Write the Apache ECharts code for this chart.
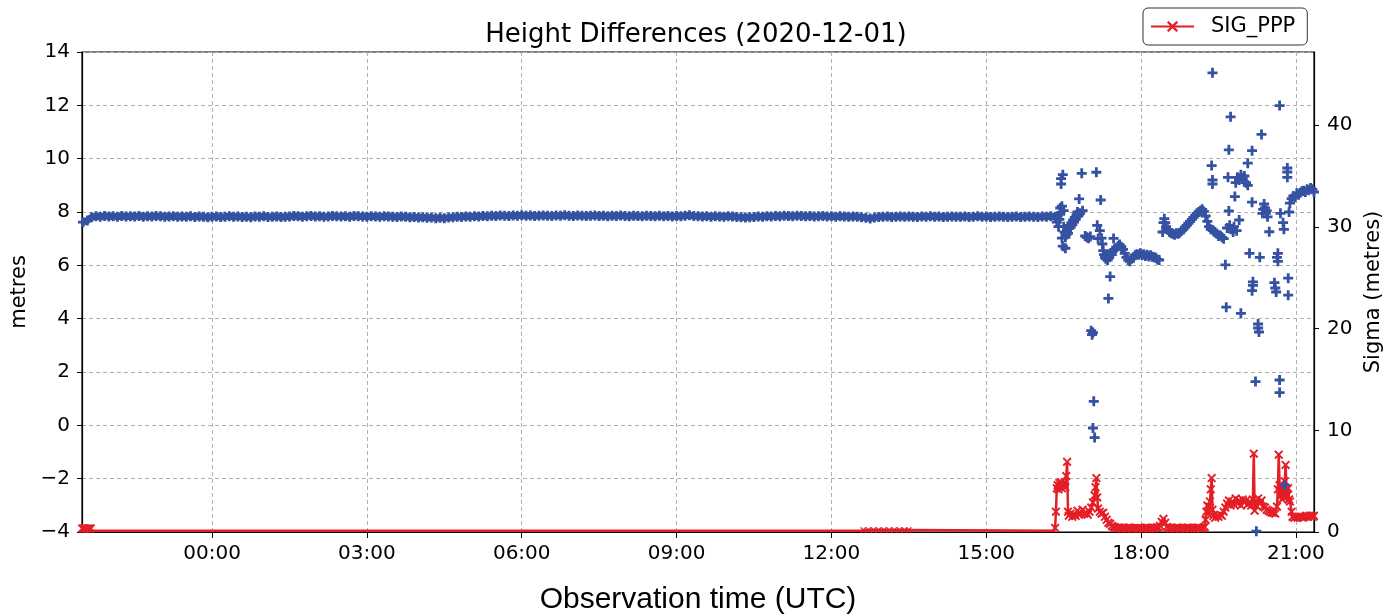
<!DOCTYPE html>
<html>
<head>
<meta charset="utf-8">
<title>Height Differences (2020-12-01)</title>
<script src="https://cdn.jsdelivr.net/npm/echarts@6.0.0/dist/echarts.min.js"></script>
<style>
  html, body { margin: 0; padding: 0; background: #fff; }
  #chart { width: 1392px; height: 616px; }
</style>
</head>
<body>
<div id="chart"></div>
<script>
// x positions are hours counted from 2020-12-01 00:00 UTC
var xTicks = [0, 3, 6, 9, 12, 15, 18, 21];

// height difference, steady part: one value every 5 minutes from 21:30 on 30 Nov to 16:20
var bandStart = '21:30';
var bandStepMin = 5;
var heightBand = [
  7.62, 7.68, 7.80, 7.84, 7.82, 7.85, 7.83, 7.84, 7.82, 7.85, 7.83, 7.84,
  7.83, 7.85, 7.82, 7.84, 7.83, 7.85, 7.84, 7.82, 7.83, 7.84, 7.82, 7.83,
  7.82, 7.84, 7.81, 7.83, 7.82, 7.80, 7.82, 7.83, 7.81, 7.82, 7.84, 7.82,
  7.83, 7.81, 7.82, 7.80, 7.83, 7.82, 7.84, 7.81, 7.82, 7.83, 7.81, 7.82,
  7.83, 7.85, 7.84, 7.82, 7.84, 7.85, 7.83, 7.84, 7.82, 7.83, 7.85, 7.84,
  7.83, 7.84, 7.82, 7.85, 7.84, 7.83, 7.82, 7.84, 7.83, 7.82, 7.84, 7.83,
  7.82, 7.81, 7.83, 7.82, 7.80, 7.81, 7.79, 7.80, 7.78, 7.79, 7.77, 7.78,
  7.77, 7.79, 7.80, 7.82, 7.81, 7.83, 7.82, 7.84, 7.83, 7.85, 7.84, 7.86,
  7.85, 7.87, 7.86, 7.85, 7.87, 7.86, 7.88, 7.86, 7.87, 7.85, 7.86, 7.87,
  7.86, 7.85, 7.87, 7.86, 7.88, 7.86, 7.85, 7.87, 7.86, 7.85, 7.86, 7.87,
  7.85, 7.86, 7.84, 7.86, 7.85, 7.87, 7.85, 7.84, 7.86, 7.85, 7.84, 7.86,
  7.85, 7.84, 7.86, 7.84, 7.85, 7.83, 7.85, 7.84, 7.86, 7.88, 7.85, 7.84,
  7.83, 7.84, 7.82, 7.84, 7.83, 7.82, 7.84, 7.83, 7.81, 7.80, 7.79, 7.80,
  7.81, 7.83, 7.82, 7.84, 7.83, 7.85, 7.84, 7.86, 7.85, 7.84, 7.86, 7.85,
  7.84, 7.85, 7.83, 7.84, 7.85, 7.83, 7.84, 7.82, 7.84, 7.83, 7.82, 7.83,
  7.82, 7.80, 7.78, 7.76, 7.79, 7.81, 7.82, 7.83, 7.81, 7.82, 7.83, 7.82,
  7.83, 7.82, 7.81, 7.83, 7.82, 7.84, 7.82, 7.83, 7.81, 7.82, 7.83, 7.82,
  7.82, 7.83, 7.81, 7.82, 7.84, 7.82, 7.83, 7.81, 7.82, 7.83, 7.82, 7.81,
  7.82, 7.83, 7.81, 7.82, 7.83, 7.82, 7.81, 7.83, 7.82, 7.84, 7.82
];

// height difference after 16:20 (time, metres)
var heightLate = [
  ['16:21', 7.78], ['16:22', 7.62], ['16:23', 7.85], ['16:24', 7.45], ['16:25', 7.72], ['16:26', 8.15],
  ['16:26', 7.95], ['16:27', 9.25], ['16:27', 9.05], ['16:28', 8.22], ['16:28', 7.02], ['16:29', 9.4],
  ['16:29', 6.72], ['16:30', 8.05], ['16:30', 7.45], ['16:31', 7.25], ['16:32', 6.64], ['16:32', 7.05],
  ['16:33', 7.15], ['16:34', 7.3], ['16:35', 7.2], ['16:36', 7.38], ['16:37', 7.5], ['16:38', 7.42],
  ['16:39', 7.6], ['16:40', 7.52], ['16:41', 7.7], ['16:42', 7.62], ['16:43', 7.8], ['16:44', 7.72],
  ['16:45', 7.9], ['16:46', 8.0], ['16:47', 7.85], ['16:48', 8.49], ['16:49', 7.95], ['16:51', 9.45],
  ['16:52', 8.05], ['16:55', 7.1], ['16:57', 7.05], ['16:59', 7.02], ['17:01', 7.08], ['17:02', 3.55],
  ['17:03', 3.4], ['17:04', 3.48], ['17:05', 0.9], ['17:04', -0.1], ['17:06', -0.46], ['17:08', 9.49],
  ['17:09', 7.5], ['17:10', 7.0], ['17:12', 7.3], ['17:13', 8.45], ['17:14', 7.02], ['17:15', 6.8],
  ['17:16', 6.55], ['17:17', 6.4], ['17:18', 6.3], ['17:19', 6.25], ['17:20', 6.35], ['17:21', 6.2],
  ['17:22', 4.76], ['17:23', 6.3], ['17:24', 5.58], ['17:25', 6.45], ['17:26', 6.4], ['17:27', 6.55],
  ['17:28', 7.01], ['17:29', 6.6], ['17:31', 6.65], ['17:33', 6.72], ['17:35', 6.78], ['17:37', 6.7],
  ['17:39', 6.6], ['17:41', 6.45], ['17:43', 6.3], ['17:45', 6.2], ['17:47', 6.15], ['17:49', 6.25],
  ['17:51', 6.3], ['17:53', 6.38], ['17:55', 6.42], ['17:57', 6.4], ['17:59', 6.45], ['18:01', 6.38],
  ['18:03', 6.42], ['18:05', 6.35], ['18:07', 6.4], ['18:09', 6.33], ['18:11', 6.38], ['18:13', 6.32],
  ['18:15', 6.3], ['18:17', 6.28], ['18:19', 6.22], ['18:21', 6.2],
  ['18:25', 7.25], ['18:26', 7.6], ['18:27', 7.75], ['18:28', 7.6], ['18:29', 7.45], ['18:31', 7.35],
  ['18:33', 7.25], ['18:35', 7.2], ['18:37', 7.18], ['18:39', 7.15], ['18:41', 7.2], ['18:43', 7.18],
  ['18:45', 7.22], ['18:47', 7.3], ['18:49', 7.35], ['18:51', 7.42], ['18:53', 7.5], ['18:55', 7.58],
  ['18:57', 7.65], ['18:59', 7.72], ['19:01', 7.8], ['19:03', 7.88], ['19:05', 7.95], ['19:07', 8.0],
  ['19:09', 8.05], ['19:11', 8.1], ['19:13', 8.02], ['19:15', 7.85], ['19:17', 7.65], ['19:19', 7.45],
  ['19:21', 7.35], ['19:22', 9.74], ['19:23', 9.2], ['19:23', 9.05], ['19:23', 13.22], ['19:24', 7.3],
  ['19:26', 7.25], ['19:28', 7.18], ['19:30', 7.1], ['19:32', 7.12], ['19:34', 7.05], ['19:36', 7.0],
  ['19:38', 6.02], ['19:39', 4.43], ['19:40', 7.4], ['19:41', 9.3], ['19:42', 10.33], ['19:42', 8.04],
  ['19:43', 7.5], ['19:44', 11.57], ['19:45', 7.35], ['19:47', 7.25], ['19:48', 7.45], ['19:49', 8.58],
  ['19:50', 9.1], ['19:51', 7.3], ['19:52', 9.3], ['19:54', 9.2], ['19:54', 7.7], ['19:56', 9.4],
  ['19:56', 4.2], ['19:58', 9.25], ['20:00', 9.35], ['20:02', 9.1], ['20:04', 9.83], ['20:04', 9.0],
  ['20:06', 6.45], ['20:09', 10.3], ['20:09', 8.37], ['20:09', 5.05], ['20:10', 5.25], ['20:10', 5.38],
  ['20:13', 1.64], ['20:14', -3.97], ['20:16', 3.8], ['20:16', 3.65], ['20:17', 3.5], ['20:18', 6.3],
  ['20:20', 10.91], ['20:21', 7.95], ['20:22', 8.1], ['20:23', 8.3], ['20:24', 8.15], ['20:25', 7.95],
  ['20:26', 8.05], ['20:27', 7.82], ['20:29', 7.26], ['20:35', 5.35], ['20:36', 5.15], ['20:37', 5.0],
  ['20:38', 6.3], ['20:39', 6.45], ['20:39', 6.15], ['20:41', 11.99], ['20:41', 1.7], ['20:41', 1.23],
  ['20:42', 7.95], ['20:45', 7.6], ['20:46', 7.35], ['20:47', -2.24], ['20:50', 9.3], ['20:50', 9.5],
  ['20:50', 9.65], ['20:51', 5.52], ['20:51', 4.88], ['20:52', 8.0], ['20:53', 8.33], ['20:55', 8.5],
  ['20:57', 8.6], ['20:59', 8.55], ['21:01', 8.7], ['21:03', 8.65], ['21:05', 8.72], ['21:07', 8.78],
  ['21:09', 8.8], ['21:11', 8.75], ['21:13', 8.85], ['21:15', 8.82], ['21:17', 8.9], ['21:19', 8.85],
  ['21:21', 8.75]
];

// SIG_PPP (time, metres) - evening of 30 Nov, then 1 Dec
var sigmaEvening = [
  ['21:29', 0.35], ['21:31', 0.35], ['21:33', 0.35], ['21:35', 0.35], ['21:37', 0.35], ['21:39', 0.35], ['21:40', 0.12]
];
var sigmaDay = [
  ['00:00', 0.12], ['12:35', 0.12], ['12:37', 0.2], ['12:43', 0.2], ['12:49', 0.2], ['12:55', 0.2],
  ['13:01', 0.2], ['13:07', 0.2], ['13:13', 0.2], ['13:19', 0.2], ['13:25', 0.2], ['13:30', 0.2],
  ['13:31', 0.12], ['16:19', 0.12],
  ['16:20', 0.4], ['16:21', 2.0], ['16:22', 4.3], ['16:23', 4.6], ['16:24', 4.2], ['16:25', 4.8],
  ['16:26', 4.5], ['16:27', 4.9], ['16:28', 4.3], ['16:29', 4.7], ['16:30', 4.5], ['16:31', 4.9],
  ['16:32', 4.4], ['16:33', 5.5], ['16:34', 6.9], ['16:35', 2.0], ['16:36', 1.6], ['16:38', 1.8],
  ['16:40', 1.5], ['16:42', 1.7], ['16:44', 1.6], ['16:46', 2.1], ['16:48', 1.7], ['16:50', 1.8],
  ['16:52', 2.2], ['16:54', 1.8], ['16:56', 1.9], ['16:58', 1.7], ['17:00', 2.0], ['17:02', 2.4],
  ['17:04', 2.9], ['17:06', 3.6], ['17:07', 4.4], ['17:08', 5.3], ['17:09', 3.4], ['17:10', 2.3],
  ['17:12', 2.0], ['17:14', 1.8], ['17:16', 1.9], ['17:18', 1.5], ['17:20', 1.2], ['17:22', 0.9],
  ['17:24', 0.8], ['17:26', 0.6], ['17:28', 0.5], ['17:30', 0.45], ['17:32', 0.4], ['17:34', 0.45],
  ['17:36', 0.4], ['17:38', 0.35], ['17:40', 0.4], ['17:42', 0.35], ['17:44', 0.4], ['17:46', 0.45],
  ['17:48', 0.4], ['17:50', 0.35], ['17:52', 0.4], ['17:54', 0.35], ['17:56', 0.4], ['17:58', 0.35],
  ['18:00', 0.4], ['18:02', 0.35], ['18:04', 0.4], ['18:06', 0.45], ['18:08', 0.4], ['18:10', 0.35],
  ['18:12', 0.4], ['18:14', 0.35], ['18:16', 0.4], ['18:18', 0.45], ['18:20', 0.45], ['18:22', 0.6],
  ['18:24', 1.0], ['18:26', 1.3], ['18:28', 0.9], ['18:30', 0.5], ['18:32', 0.4], ['18:34', 0.35],
  ['18:36', 0.4], ['18:38', 0.35], ['18:40', 0.4], ['18:42', 0.45], ['18:44', 0.4], ['18:46', 0.35],
  ['18:48', 0.4], ['18:50', 0.35], ['18:52', 0.4], ['18:54', 0.45], ['18:56', 0.4], ['18:58', 0.35],
  ['19:00', 0.4], ['19:02', 0.35], ['19:04', 0.4], ['19:06', 0.45], ['19:08', 0.4], ['19:10', 0.35],
  ['19:12', 0.4], ['19:14', 0.5], ['19:15', 1.2], ['19:16', 2.0],
  ['19:17', 2.6], ['19:18', 1.8], ['19:19', 2.5], ['19:20', 3.0], ['19:21', 4.2], ['19:22', 5.3],
  ['19:23', 2.2], ['19:24', 1.6], ['19:26', 1.4], ['19:28', 1.6], ['19:30', 1.5], ['19:32', 1.7],
  ['19:34', 1.6], ['19:36', 2.0], ['19:38', 2.4], ['19:40', 2.8], ['19:42', 3.1], ['19:44', 2.6],
  ['19:46', 3.0], ['19:48', 2.7], ['19:50', 3.3], ['19:52', 2.8], ['19:54', 3.1], ['19:56', 2.6],
  ['19:58', 3.2], ['20:00', 2.9], ['20:02', 3.1], ['20:04', 2.7], ['20:06', 3.0], ['20:08', 2.6],
  ['20:10', 3.2], ['20:11', 7.7], ['20:12', 2.1], ['20:14', 2.6], ['20:16', 3.3], ['20:18', 2.8],
  ['20:20', 3.1], ['20:22', 2.5], ['20:24', 2.4], ['20:26', 2.2], ['20:28', 2.1], ['20:30', 2.0],
  ['20:32', 1.9], ['20:34', 1.9], ['20:36', 1.8], ['20:38', 2.5], ['20:39', 4.2], ['20:40', 7.6],
  ['20:41', 4.6], ['20:42', 3.5], ['20:43', 4.4], ['20:44', 3.2], ['20:45', 4.0], ['20:46', 3.4],
  ['20:47', 5.0], ['20:48', 6.6], ['20:49', 4.2], ['20:50', 3.6], ['20:51', 4.3], ['20:52', 3.2],
  ['20:53', 3.0], ['20:55', 2.0], ['20:56', 1.5], ['20:58', 1.4], ['21:00', 1.5], ['21:02', 1.4],
  ['21:04', 1.5], ['21:06', 1.5], ['21:08', 1.4], ['21:10', 1.5], ['21:12', 1.6], ['21:14', 1.5],
  ['21:16', 1.6], ['21:18', 1.6], ['21:20', 1.5], ['21:21', 1.6]
];

function hours(hhmm, day) {
  var p = hhmm.split(':');
  return (day || 0) * 24 + Number(p[0]) + Number(p[1]) / 60;
}

var bandData = [];
var t0 = hours(bandStart, -1);
heightBand.forEach(function (v, i) {
  bandData.push([t0 + i * bandStepMin / 60, v]);
});
var heightData = bandData.slice();
heightLate.forEach(function (d) { heightData.push([hours(d[0]), d[1]]); });

var sigmaData = [];
sigmaEvening.forEach(function (d) { sigmaData.push([hours(d[0], -1), d[1]]); });
sigmaDay.forEach(function (d) { sigmaData.push([hours(d[0]), d[1]]); });

var plusSymbol = 'path://M3.6,0h2.8v3.6h3.6v2.8h-3.6v3.6h-2.8v-3.6h-3.6v-2.8h3.6z';
var crossSymbol = 'path://M0,1.5L1.5,0L5,3.5L8.5,0L10,1.5L6.5,5L10,8.5L8.5,10L5,6.5L1.5,10L0,8.5L3.5,5Z';
var blue = '#3552a2';
var red = '#e41e26';
var gridLine = { show: true, lineStyle: { color: '#b0b0b0', width: 1, type: [4, 3] } };
var font = 'DejaVu Sans';

var chart = echarts.init(document.getElementById('chart'));
chart.setOption({
  animation: false,
  backgroundColor: '#fff',
  title: {
    text: 'Height Differences (2020-12-01)',
    left: 'center',
    top: 17,
    textStyle: { fontFamily: font, fontSize: 26, fontWeight: 'normal', color: '#000' }
  },
  legend: {
    data: ['SIG_PPP'],
    left: 1143,
    top: 8,
    padding: [8, 12, 8, 7],
    borderColor: '#333',
    borderWidth: 1,
    borderRadius: 5,
    itemWidth: 43,
    itemHeight: 14,
    textStyle: { fontFamily: font, fontSize: 21, color: '#000', padding: [0, 0, 0, 12] }
  },
  grid: {
    left: 82, right: 78, top: 52, bottom: 84,
    outerBoundsMode: 'none',
    show: true, borderColor: '#000', borderWidth: 1.2, backgroundColor: 'transparent'
  },
  xAxis: {
    type: 'value',
    min: -2.52,
    max: 21.35,
    axisLine: { show: true, onZero: false, lineStyle: { color: '#000', width: 1.2 } },
    axisTick: { show: true, customValues: xTicks, length: 6, lineStyle: { color: '#000' } },
    axisLabel: {
      customValues: xTicks,
      color: '#000', fontFamily: font, fontSize: 20, margin: 12,
      formatter: function (v) {
        var h = ((Math.round(v) % 24) + 24) % 24;
        return (h < 10 ? '0' : '') + h + ':00';
      }
    },
    splitLine: gridLine,
    name: 'Observation time (UTC)',
    nameLocation: 'middle',
    nameGap: 53,
    nameTextStyle: { fontFamily: 'Liberation Sans', fontSize: 30, color: '#000' }
  },
  yAxis: [
    {
      type: 'value',
      position: 'left',
      min: -4, max: 14, interval: 2,
      axisLine: { show: true, onZero: false, lineStyle: { color: '#000', width: 1.2 } },
      axisTick: { show: true, length: 5, lineStyle: { color: '#000' } },
      axisLabel: {
        color: '#000', fontFamily: font, fontSize: 20, margin: 12,
        formatter: function (v) { return v < 0 ? '\u2212' + (-v) : String(v); }
      },
      splitLine: gridLine,
      name: 'metres',
      nameLocation: 'middle',
      nameRotate: 90,
      nameGap: 52,
      nameTextStyle: { fontFamily: font, fontSize: 21, color: '#000' }
    },
    {
      type: 'value',
      position: 'right',
      min: 0, max: 47.2, interval: 10,
      axisLine: { show: true, onZero: false, lineStyle: { color: '#000', width: 1.2 } },
      axisTick: { show: true, length: 5, lineStyle: { color: '#000' } },
      axisLabel: { color: '#000', fontFamily: font, fontSize: 20, margin: 13, showMaxLabel: false },
      splitLine: { show: false },
      name: 'Sigma (metres)',
      nameLocation: 'middle',
      nameRotate: 90,
      nameGap: 43,
      nameTextStyle: { fontFamily: font, fontSize: 21, color: '#000' }
    }
  ],
  series: [
    {
      name: 'SIG_PPP',
      type: 'line',
      yAxisIndex: 1,
      data: sigmaData,
      symbol: crossSymbol,
      showSymbol: true,
      showAllSymbol: true,
      symbolSize: function (v) { return v[1] < 0.15 ? 0 : (v[1] < 0.3 ? 6 : 9); },
      lineStyle: { color: red, width: 2.5 },
      itemStyle: { color: red },
      z: 2
    },
    {
      // the steady height samples overlap into a solid ribbon
      name: 'Height band',
      type: 'line',
      yAxisIndex: 0,
      data: bandData,
      showSymbol: false,
      lineStyle: { color: blue, width: 7 },
      z: 3
    },
    {
      name: 'Height',
      type: 'scatter',
      yAxisIndex: 0,
      data: heightData,
      symbol: plusSymbol,
      symbolSize: 10,
      itemStyle: { color: blue, opacity: 1 },
      z: 4
    }
  ]
});
</script>
</body>
</html>
